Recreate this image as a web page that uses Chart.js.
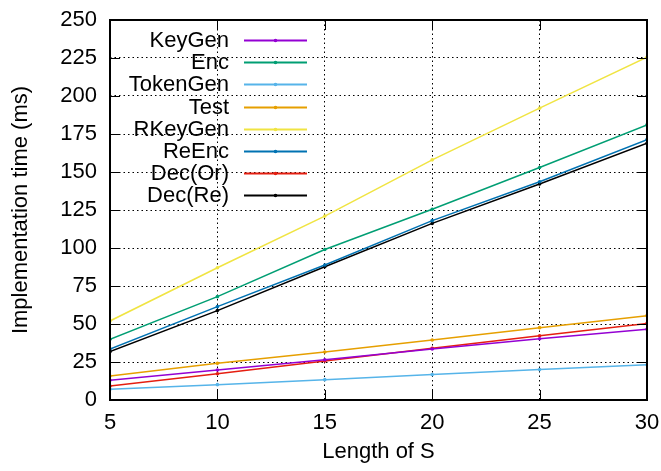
<!DOCTYPE html>
<html>
<head>
<meta charset="utf-8">
<script src="https://cdn.jsdelivr.net/npm/chart.js@4.4.0/dist/chart.umd.min.js"></script>
<style>
    html, body { margin: 0; padding: 0; background: #fff; }
    #wrap { width: 661px; height: 471px; }
</style>
</head>
<body>
<div id="wrap"><canvas id="chart" width="661" height="471"></canvas></div>
<script>
// Length of S (x axis)
const lengths = [5, 10, 15, 20, 25, 30];

// Implementation time (ms) per scheme step
const keyGen   = [13.0, 19.7, 26.5, 33.6, 40.3, 46.5];
const enc      = [40.0, 68.0, 99.0, 125.5, 153.0, 181.0];
const tokenGen = [7.0, 10.1, 13.4, 16.7, 20.0, 23.2];
const test     = [15.8, 24.1, 31.6, 39.5, 47.6, 55.5];
const rKeyGen  = [52.0, 87.0, 121.0, 158.0, 192.0, 225.5];
const reEnc    = [33.5, 61.4, 88.8, 118.0, 143.6, 171.3];
const decOr    = [9.2, 17.3, 25.7, 34.0, 42.3, 50.4];
const decRe    = [31.8, 58.8, 87.7, 116.2, 142.1, 168.9];

const seriesNames = ['KeyGen', 'Enc', 'TokenGen', 'Test', 'RKeyGen', 'ReEnc', 'Dec(Or)', 'Dec(Re)'];
const seriesValues = [keyGen, enc, tokenGen, test, rKeyGen, reEnc, decOr, decRe];

const yTicks = [0, 25, 50, 75, 100, 125, 150, 175, 200, 225, 250];

// gnuplot default palette
const COLORS = ['#9400d3', '#009e73', '#56b4e9', '#e69f00', '#f0e442', '#0072b2', '#e51e10', '#000000'];
const FONT = 'Liberation Sans, Arial, sans-serif';
const FONT_SIZE = 22;

const datasets = seriesNames.map((name, i) => ({
    label: name,
    data: lengths.map((x, j) => ({ x: x, y: seriesValues[i][j] })),
    borderColor: COLORS[i],
    backgroundColor: COLORS[i],
    borderWidth: 1.5,
    pointRadius: 1.8,
    pointHoverRadius: 1.8,
    pointBorderWidth: 0,
    tension: 0,
    fill: false
}));

// no extra room for overhanging tick labels, layout padding decides the plot box
function noScalePadding(s) {
    s.paddingLeft = 0;
    s.paddingRight = 0;
    s.paddingTop = 0;
    s.paddingBottom = 0;
}

// Frame with inward tick marks on all four sides (gnuplot look)
const framePlugin = {
    id: 'frame',
    afterDraw(chart) {
        const { ctx, chartArea: a, scales } = chart;
        const len = 10;
        ctx.save();
        ctx.strokeStyle = '#000';
        ctx.lineWidth = 1;
        ctx.beginPath();
        lengths.forEach(v => {
            const x = Math.round(scales.x.getPixelForValue(v)) + 0.5;
            ctx.moveTo(x, a.bottom); ctx.lineTo(x, a.bottom - len);
            ctx.moveTo(x, a.top); ctx.lineTo(x, a.top + len);
        });
        yTicks.forEach(v => {
            const y = Math.round(scales.y.getPixelForValue(v)) + 0.5;
            ctx.moveTo(a.left, y); ctx.lineTo(a.left + len, y);
            ctx.moveTo(a.right, y); ctx.lineTo(a.right - len, y);
        });
        ctx.stroke();
        ctx.lineWidth = 2;
        ctx.strokeRect(a.left, a.top, a.right - a.left, a.bottom - a.top);
        ctx.restore();
    }
};

// Key in the top-left corner: right-aligned text, sample line on the right
const keyPlugin = {
    id: 'key',
    afterDatasetsDraw(chart) {
        const ctx = chart.ctx;
        ctx.save();
        ctx.font = FONT_SIZE + 'px ' + FONT;
        ctx.textAlign = 'right';
        ctx.textBaseline = 'middle';
        chart.data.datasets.forEach((ds, i) => {
            const y = 40 + i * 22.2;
            ctx.fillStyle = '#000';
            ctx.fillText(ds.label, 229, y + 1);
            ctx.strokeStyle = ds.borderColor;
            ctx.lineWidth = 2;
            ctx.beginPath();
            ctx.moveTo(244, Math.round(y) + 0.5);
            ctx.lineTo(307, Math.round(y) + 0.5);
            ctx.stroke();
            ctx.fillStyle = ds.borderColor;
            ctx.beginPath();
            ctx.arc(275.5, Math.round(y) + 0.5, 1.8, 0, Math.PI * 2);
            ctx.fill();
        });
        ctx.restore();
    }
};

Chart.defaults.font.family = FONT;
Chart.defaults.font.size = FONT_SIZE;
Chart.defaults.color = '#000';

new Chart(document.getElementById('chart').getContext('2d'), {
    type: 'line',
    data: { datasets: datasets },
    options: {
        responsive: false,
        animation: false,
        devicePixelRatio: 1,
        layout: { padding: { left: 0, top: 20, right: 14, bottom: 0 } },
        plugins: {
            legend: { display: false },
            tooltip: { enabled: false }
        },
        scales: {
            x: {
                type: 'linear',
                min: 5,
                max: 30,
                afterFit: s => { s.height = 71; noScalePadding(s); },
                afterBuildTicks: s => { s.ticks = lengths.map(v => ({ value: v })); },
                ticks: { padding: 10, maxRotation: 0 },
                grid: { color: '#000', lineWidth: 1, drawTicks: false },
                border: { display: false, dash: [1.5, 3] },
                title: { display: true, text: 'Length of S', padding: { top: 0, bottom: 6 } }
            },
            y: {
                type: 'linear',
                min: 0,
                max: 250,
                afterFit: s => { s.width = 110; noScalePadding(s); },
                afterBuildTicks: s => { s.ticks = yTicks.map(v => ({ value: v })); },
                ticks: { padding: 13 },
                grid: { color: '#000', lineWidth: 1, drawTicks: false },
                border: { display: false, dash: [1.5, 3] },
                title: { display: true, text: 'Implementation time (ms)', padding: { top: 8, bottom: 0 } }
            }
        }
    },
    plugins: [framePlugin, keyPlugin]
});
</script>
</body>
</html>
